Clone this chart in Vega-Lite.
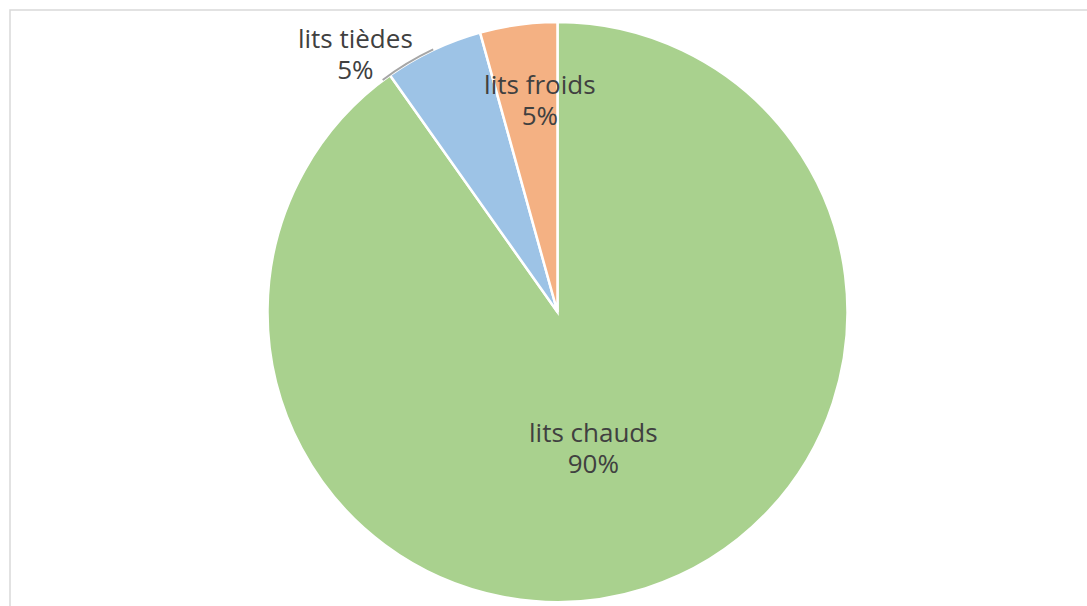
{
  "$schema": "https://vega.github.io/schema/vega-lite/v6.json",
  "width": 1095,
  "height": 604,
  "autosize": {"type": "none"},
  "padding": {"left": 10, "top": 10, "right": -18, "bottom": -8},
  "background": "white",
  "view": {"stroke": "#D9D9D9", "strokeWidth": 1.5},
  "config": {"view": {"stroke": "#D9D9D9", "strokeWidth": 1.5}},
  "data": {
    "values": [
      {"category": "lits chauds", "value": 90.2, "label": ["lits chauds", "90%"]},
      {"category": "lits tièdes", "value": 5.5, "label": ["lits tièdes", "5%"]},
      {"category": "lits froids", "value": 4.3, "label": ["lits froids", "5%"]}
    ]
  },
  "layer": [
    {
      "mark": {"type": "arc", "outerRadius": 290, "stroke": "white", "strokeWidth": 2.5},
      "encoding": {
        "theta": {"field": "value", "type": "quantitative", "stack": true},
        "order": {"field": "value", "type": "quantitative", "sort": "descending"},
        "color": {
          "field": "category",
          "type": "nominal",
          "scale": {"domain": ["lits chauds", "lits tièdes", "lits froids"], "range": ["#A9D18E", "#9DC3E6", "#F4B183"]},
          "legend": null
        }
      }
    },
    {
      "transform": [
        {"stack": "value", "groupby": [], "sort": [{"field": "value", "order": "descending"}], "as": ["t0", "t1"]},
        {"filter": "datum.category === 'lits tièdes'"}
      ],
      "mark": {"type": "arc", "innerRadius": 289.5, "outerRadius": 291.5, "fill": "#A6A6A6", "strokeWidth": 0, "thetaOffset": -0.03, "theta2Offset": -0.172},
      "encoding": {
        "theta": {"field": "t0", "type": "quantitative"},
        "theta2": {"field": "t1"}
      }
    },
    {
      "mark": {"type": "text", "radius": 138, "dx": -6, "dy": -10, "font": "Open Sans", "fontSize": 26, "lineHeight": 31, "fill": "#404040", "align": "center", "baseline": "middle"},
      "encoding": {
        "theta": {"field": "value", "type": "quantitative", "stack": true},
        "order": {"field": "value", "type": "quantitative", "sort": "descending"},
        "detail": {"field": "category", "type": "nominal"},
        "text": {"condition": {"test": "datum.category === 'lits chauds'", "field": "label", "type": "nominal"}, "value": ""}
      }
    },
    {
      "mark": {"type": "text", "radius": 213, "dx": 11, "dy": -15, "font": "Open Sans", "fontSize": 26, "lineHeight": 31, "fill": "#404040", "align": "center", "baseline": "middle"},
      "encoding": {
        "theta": {"field": "value", "type": "quantitative", "stack": true},
        "order": {"field": "value", "type": "quantitative", "sort": "descending"},
        "detail": {"field": "category", "type": "nominal"},
        "text": {"condition": {"test": "datum.category === 'lits froids'", "field": "label", "type": "nominal"}, "value": ""}
      }
    },
    {
      "mark": {"type": "text", "radius": 320, "dx": -65, "dy": 17, "font": "Open Sans", "fontSize": 26, "lineHeight": 31, "fill": "#404040", "align": "center", "baseline": "middle"},
      "encoding": {
        "theta": {"field": "value", "type": "quantitative", "stack": true},
        "order": {"field": "value", "type": "quantitative", "sort": "descending"},
        "detail": {"field": "category", "type": "nominal"},
        "text": {"condition": {"test": "datum.category === 'lits tièdes'", "field": "label", "type": "nominal"}, "value": ""}
      }
    }
  ]
}
